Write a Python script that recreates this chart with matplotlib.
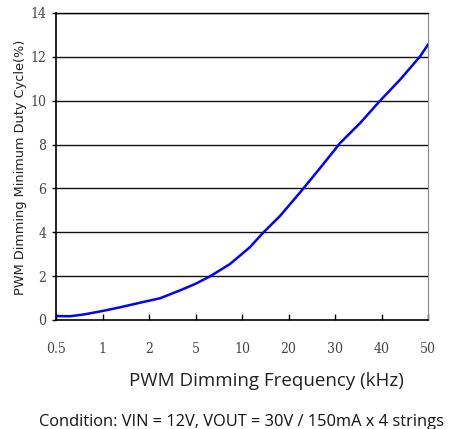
import numpy as np
import matplotlib.pyplot as plt

# frequency ticks (categorical, evenly spaced on the chart)
freq_ticks = [0.5, 1, 2, 5, 10, 20, 30, 40, 50]
tick_labels = ['0.5', '1', '2', '5', '10', '20', '30', '40', '50']

# measured curve (kHz, %)
freq = [0.5, 0.65, 0.81, 1, 1.38, 1.81, 2.71, 4.0, 5.0, 6.6, 8.7, 11.7, 14.5,
        18.2, 22.5, 26.8, 31.1, 35.4, 39.7, 44, 48.3, 50]
duty = [0.18, 0.17, 0.26, 0.41, 0.58, 0.79, 0.99, 1.35, 1.65, 2.0, 2.55, 3.32, 3.97,
        4.75, 5.82, 6.93, 8.07, 8.98, 10.0, 10.96, 12.02, 12.56]

yticks = [0, 2, 4, 6, 8, 10, 12, 14]

fig = plt.figure(figsize=(4.63, 4.29), dpi=100)
ax = fig.add_axes([0.121, 0.2541, 0.8034, 0.7156])

# map frequencies onto the evenly spaced category positions
pos = np.interp(freq, freq_ticks, np.arange(len(freq_ticks)))
ax.plot(pos, duty, color='#0000ff', lw=1.8, zorder=3)

for y in yticks[1:]:
    ax.axhline(y, color='#111111', lw=1.0, zorder=1)

ax.set_xlim(0, len(freq_ticks) - 1)
ax.set_ylim(0, 14)
ax.set_xticks(np.arange(len(freq_ticks)))
ax.set_xticklabels(tick_labels)
ax.set_yticks(yticks)

for s in ['left', 'bottom']:
    ax.spines[s].set_linewidth(1.2)
ax.spines['right'].set_color('#888888')
ax.spines['right'].set_linewidth(0.8)
ax.spines['top'].set_linewidth(1.0)

ax.tick_params(axis='x', direction='in', length=4, width=1, pad=16)
ax.tick_params(axis='y', direction='out', length=3, width=1, pad=4)
for lab in ax.get_xticklabels() + ax.get_yticklabels():
    lab.set_fontfamily('DejaVu Serif')
    lab.set_fontstretch('condensed')
    lab.set_fontsize(10)
    lab.set_color('#444444')

fig.text(21 / 463, 1 - 167 / 429, 'PWM Dimming Minimum Duty Cycle(%)', rotation=90,
         ha='center', va='center', fontfamily='DejaVu Sans', fontsize=9.3, color='#222222')

fig.text(266.5 / 463, 1 - 381 / 429, 'PWM Dimming Frequency (kHz)', ha='center', va='center',
         fontfamily='Open Sans', fontsize=13.5, color='#222222')
fig.text(242 / 463, 1 - 422 / 429, 'Condition: VIN = 12V, VOUT = 30V / 150mA x 4 strings',
         ha='center', va='center', fontfamily='Open Sans', fontsize=11.8, color='#111111')

fig.savefig('out.png', dpi=100)
